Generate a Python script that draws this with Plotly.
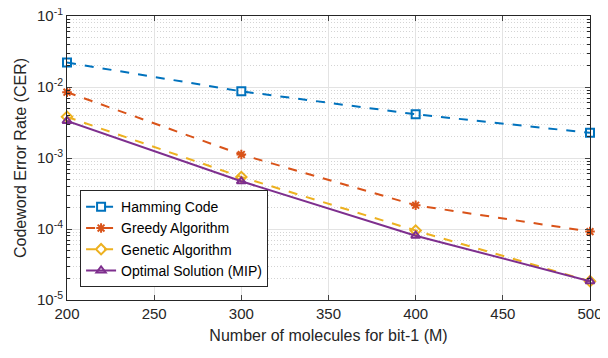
import plotly.graph_objects as go

M = [200, 300, 400, 500]
hamming = [0.0221, 0.0087, 0.00413, 0.00226]
greedy = [0.00845, 0.00112, 0.000216, 9.2e-5]
genetic = [0.0038, 0.00054, 9.5e-5, 1.84e-5]
mip = [0.00333, 0.00047, 8.05e-5, 1.84e-5]

names = ["Hamming Code", "Greedy Algorithm", "Genetic Algorithm", "Optimal Solution (MIP)"]
colors = ["#0072BD", "#D95319", "#EDB120", "#7E2F8E"]
symbols = ["square-open", "asterisk-open", "diamond-open", "triangle-up-open"]
dashes = ["dash", "dash", "dash", "solid"]
series = [hamming, greedy, genetic, mip]

x_ticks = [200, 250, 300, 350, 400, 450, 500]
y_tickvals = [1e-5, 1e-4, 1e-3, 1e-2, 1e-1]
y_ticktext = ["10<sup>-5</sup>", "10<sup>-4</sup>", "10<sup>-3</sup>", "10<sup>-2</sup>", "10<sup>-1</sup>"]

fig = go.Figure()
for n, c, s, d, ys in zip(names, colors, symbols, dashes, series):
    fig.add_trace(go.Scatter(
        x=M, y=ys, name=n, mode="lines+markers", cliponaxis=False,
        line=dict(color=c, width=2, dash=d),
        marker=dict(symbol=s, size=8, color=c, line=dict(color=c, width=2)),
    ))

font = "Liberation Sans, Arial, sans-serif"
fig.update_layout(
    width=600, height=350,
    margin=dict(l=59, r=18, t=8, b=58),
    paper_bgcolor="white", plot_bgcolor="white",
    font=dict(family=font, size=15, color="#262626"),
    showlegend=True,
    legend=dict(x=0.025, y=0.045, xanchor="left", yanchor="bottom",
                bordercolor="#262626", borderwidth=1, bgcolor="white",
                font=dict(size=14, color="#000000"), tracegroupgap=0,
                itemwidth=30),
)
fig.update_xaxes(
    range=[200, 500], tickvals=x_ticks, ticks="inside", ticklen=5,
    showline=True, linecolor="#262626", linewidth=1, mirror="ticks",
    showgrid=True, gridcolor="#e3e3e3", gridwidth=1, zeroline=False,
    ticklabeloverflow="allow", automargin=False,
    title=dict(text="Number of molecules for bit-1 (M)", font=dict(size=16), standoff=8),
    tickfont=dict(size=15),
)
fig.update_yaxes(
    type="log", range=[-5, -1], tickvals=y_tickvals, ticktext=y_ticktext,
    ticks="inside", ticklen=5, ticklabeloverflow="allow", automargin=False,
    showline=True, linecolor="#262626", linewidth=1, mirror="ticks",
    showgrid=True, gridcolor="#e3e3e3", gridwidth=1, zeroline=False,
    minor=dict(dtick="D1", ticks="inside", ticklen=3, showgrid=True, gridcolor="#d4d4d4",
               griddash="1px,2px", tickcolor="#262626"),
    title=dict(text="Codeword Error Rate (CER)", font=dict(size=16), standoff=6),
    tickfont=dict(size=15),
)
fig.write_html("out.html")
